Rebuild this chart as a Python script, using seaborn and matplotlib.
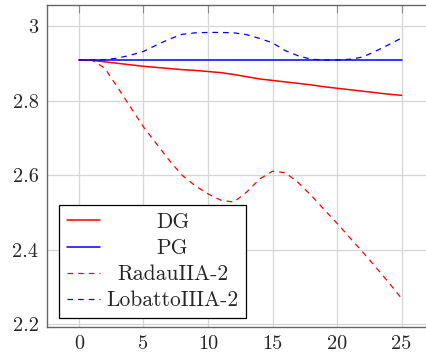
import matplotlib
matplotlib.use("Agg")
import matplotlib.pyplot as plt
import pandas as pd
import seaborn as sns

# time steps and the value of each method at every step
steps = list(range(26))
dg = [2.910, 2.909, 2.905, 2.901, 2.897, 2.893, 2.890, 2.887, 2.884, 2.882,
      2.879, 2.876, 2.871, 2.865, 2.859, 2.855, 2.851, 2.847, 2.843, 2.838,
      2.834, 2.830, 2.826, 2.822, 2.818, 2.815]
pg = [2.910] * 26
radau = [2.910, 2.910, 2.888, 2.836, 2.783, 2.730, 2.685, 2.640, 2.600, 2.572,
         2.550, 2.533, 2.528, 2.555, 2.590, 2.611, 2.607, 2.580, 2.546, 2.508,
         2.471, 2.432, 2.393, 2.353, 2.312, 2.269]
lobatto = [2.910, 2.910, 2.911, 2.915, 2.923, 2.933, 2.950, 2.966, 2.979, 2.983,
           2.984, 2.984, 2.983, 2.978, 2.968, 2.956, 2.935, 2.921, 2.912, 2.910,
           2.910, 2.912, 2.918, 2.934, 2.951, 2.969]
methods = ["DG", "PG", "RadauIIA-2", "LobattoIIIA-2"]
x_ticks = [0, 5, 10, 15, 20, 25]
y_ticks = [2.2, 2.4, 2.6, 2.8, 3.0]

df = pd.DataFrame({
    "step": steps * 4,
    "value": dg + pg + radau + lobatto,
    "method": sum([[m] * len(steps) for m in methods], []),
})

sns.set_theme(style="whitegrid")
plt.rcParams["font.family"] = ["cmr10", "DejaVu Serif"]
plt.rcParams["axes.formatter.use_mathtext"] = True

fig = plt.figure(figsize=(4.27, 3.53), dpi=100)
ax = fig.add_axes([0.1094, 0.0745, 0.9066, 0.9105])

palette = {"DG": "#ff0000", "PG": "#0000ff",
           "RadauIIA-2": "#ff0000", "LobattoIIIA-2": "#0000ff"}
dashes = {"DG": "", "PG": "", "RadauIIA-2": (4.5, 4.0), "LobattoIIIA-2": (4.5, 4.0)}
sns.lineplot(data=df, x="step", y="value", hue="method", style="method",
             hue_order=methods, style_order=methods, palette=palette,
             dashes=dashes, linewidth=0.9, ax=ax, legend=False, zorder=3)

# solid lines a touch heavier than dashed ones
for line in ax.get_lines()[:2]:
    line.set_linewidth(1.1)

ax.set_xlim(-2.5, 27.5)
ax.set_ylim(2.193, 3.057)
ax.set_xticks(x_ticks)
ax.set_yticks(y_ticks)
ax.set_xticklabels([str(v) for v in x_ticks])
ax.set_yticklabels(["2.2", "2.4", "2.6", "2.8", "3"])
ax.set_xlabel("")
ax.set_ylabel("")

ax.grid(True, color="#d6d6d6", linewidth=0.9)
ax.set_axisbelow(True)
for sp in ax.spines.values():
    sp.set_color("#666666")
    sp.set_linewidth(1.0)
ax.tick_params(direction="in", length=6, width=0.8, color="#8a8a8a",
               top=True, right=True, labelsize=14.6, pad=6)
ax.tick_params(axis="y", pad=6)

handles = ax.get_lines()[:4]
leg = ax.legend(handles, methods, loc="lower left",
                bbox_to_anchor=(0.0318, 0.027), borderaxespad=0,
                fontsize=15.5, frameon=True, fancybox=False,
                edgecolor="black", framealpha=1, handlelength=1.55,
                handletextpad=0.3, borderpad=0.35, labelspacing=0.31)
leg.get_frame().set_linewidth(0.9)
leg.set_zorder(5)

# centre each legend label within its column
fig.canvas.draw()
renderer = fig.canvas.get_renderer()
widths = [t.get_window_extent(renderer).width for t in leg.get_texts()]
wmax = max(widths)
for t, w in zip(leg.get_texts(), widths):
    t.set_position(((wmax - w) / 2, 0))

fig.savefig("out.png", dpi=100)
